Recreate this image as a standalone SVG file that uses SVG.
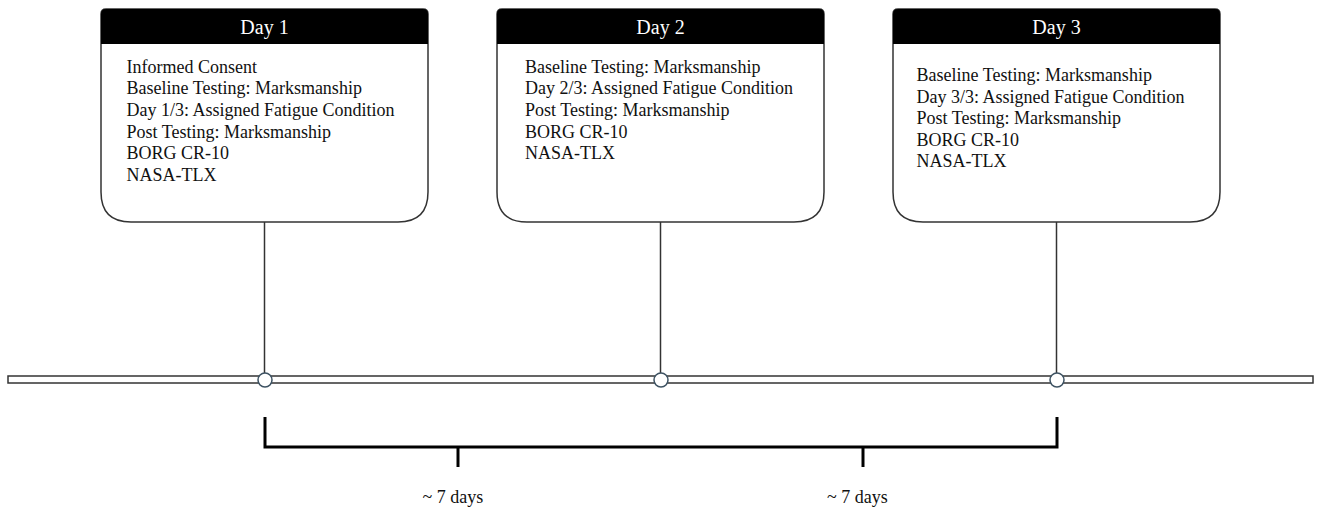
<svg xmlns="http://www.w3.org/2000/svg" width="1324" height="510" viewBox="0 0 1324 510">
<style>
.box{fill:#fff;stroke:#333;stroke-width:1.5}
.hdr{fill:#000}
.ht{font-family:"Liberation Serif","Times New Roman",serif;font-size:20px;fill:#fff;text-anchor:middle}
.bt{font-family:"Liberation Serif","Times New Roman",serif;font-size:18px;fill:#111}
.conn{stroke:#333;stroke-width:1.5;fill:none}
.dot{fill:#fff;stroke:#3d5262;stroke-width:1.5}
.br{stroke:#000;stroke-width:3;fill:none}
.lbl{font-family:"Liberation Serif","Times New Roman",serif;font-size:18px;fill:#111}
</style>
<rect x="8" y="376" width="1305" height="7" fill="#fff" stroke="#333" stroke-width="1.5"/>
<g id="connectors">
<line class="conn" x1="264.5" y1="222" x2="264.5" y2="373"/>
<line class="conn" x1="660.5" y1="222" x2="660.5" y2="373"/>
<line class="conn" x1="1056.5" y1="222" x2="1056.5" y2="373"/>
<path class="br" d="M265 417 V447 H1057 V417"/>
<line class="br" x1="458" y1="447" x2="458" y2="467"/>
<line class="br" x1="863" y1="447" x2="863" y2="467"/>
</g>
<g id="markers">
<circle class="dot" cx="265" cy="380" r="7"/>
<circle class="dot" cx="661" cy="380" r="7"/>
<circle class="dot" cx="1057" cy="380" r="7"/>
</g>
<g id="day1">
<path class="box" d="M106 9 H423 Q428 9 428 14 V192 Q428 222 398 222 H131 Q101 222 101 192 V14 Q101 9 106 9 Z"/>
<path class="hdr" d="M106 9 H423 Q428 9 428 14 V44 H101 V14 Q101 9 106 9 Z"/>
<text class="ht" x="264.5" y="34">Day 1</text>
<text class="bt" x="126.5" y="72.7">Informed Consent</text>
<text class="bt" x="126.5" y="94.3">Baseline Testing: Marksmanship</text>
<text class="bt" x="126.5" y="115.9">Day 1/3: Assigned Fatigue Condition</text>
<text class="bt" x="126.5" y="137.5">Post Testing: Marksmanship</text>
<text class="bt" x="126.5" y="159.1">BORG CR-10</text>
<text class="bt" x="126.5" y="180.7">NASA-TLX</text>
</g>
<g id="day2">
<path class="box" d="M502 9 H819 Q824 9 824 14 V192 Q824 222 794 222 H527 Q497 222 497 192 V14 Q497 9 502 9 Z"/>
<path class="hdr" d="M502 9 H819 Q824 9 824 14 V44 H497 V14 Q497 9 502 9 Z"/>
<text class="ht" x="660.5" y="34">Day 2</text>
<text class="bt" x="525" y="72.7">Baseline Testing: Marksmanship</text>
<text class="bt" x="525" y="94.3">Day 2/3: Assigned Fatigue Condition</text>
<text class="bt" x="525" y="115.9">Post Testing: Marksmanship</text>
<text class="bt" x="525" y="137.5">BORG CR-10</text>
<text class="bt" x="525" y="159.1">NASA-TLX</text>
</g>
<g id="day3">
<path class="box" d="M898 9 H1215 Q1220 9 1220 14 V192 Q1220 222 1190 222 H923 Q893 222 893 192 V14 Q893 9 898 9 Z"/>
<path class="hdr" d="M898 9 H1215 Q1220 9 1220 14 V44 H893 V14 Q893 9 898 9 Z"/>
<text class="ht" x="1056.5" y="34">Day 3</text>
<text class="bt" x="916.5" y="81">Baseline Testing: Marksmanship</text>
<text class="bt" x="916.5" y="102.5">Day 3/3: Assigned Fatigue Condition</text>
<text class="bt" x="916.5" y="124">Post Testing: Marksmanship</text>
<text class="bt" x="916.5" y="145.5">BORG CR-10</text>
<text class="bt" x="916.5" y="167">NASA-TLX</text>
</g>
<g id="labels">
<text class="lbl" x="422.5" y="503">~ 7 days</text>
<text class="lbl" x="827" y="503">~ 7 days</text>
</g>
</svg>
